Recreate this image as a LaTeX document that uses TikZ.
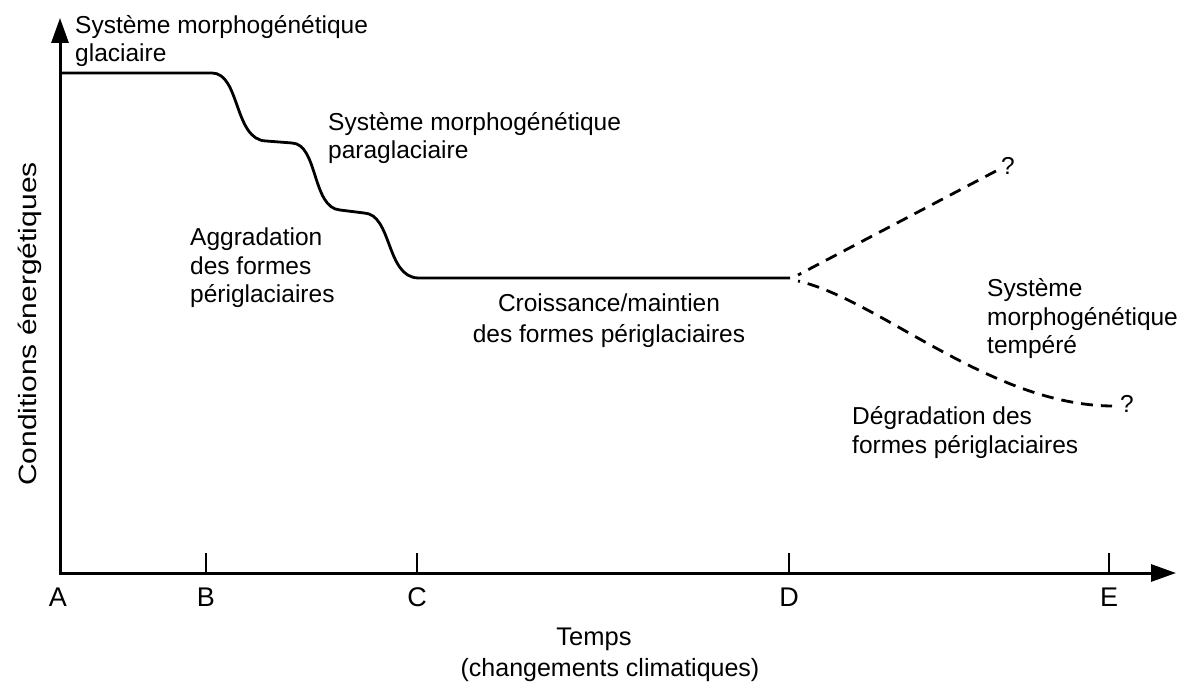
\documentclass[tikz,border=0pt]{standalone}
\usepackage{fontspec}
\setmainfont{Liberation Sans}
\usetikzlibrary{arrows.meta}
\begin{document}
\begin{tikzpicture}[x=1pt,y=-1pt,
  axis/.style={line width=3pt, line cap=rect, -{Triangle[length=25pt,width=17pt]}},
  tickmark/.style={line width=2.6pt},
  curve/.style={line width=2.8pt, line join=round},
  branch/.style={line width=2.8pt, dash pattern=on 12pt off 8pt},
  lbl/.style={font=\fontsize{24.5}{28.5}\selectfont, inner sep=0pt, align=left, anchor=base west},
  clbl/.style={font=\fontsize{24.5}{31.5}\selectfont, inner sep=0pt, align=center, anchor=base},
  letter/.style={font=\fontsize{27}{30}\selectfont, inner sep=0pt, anchor=base},
  qm/.style={font=\fontsize{24.5}{28}\selectfont, inner sep=0pt, anchor=base},
]
\useasboundingbox (0,0) rectangle (1178,684);

% axes
\coordinate (O) at (60,573);
\coordinate (ytop) at (60,18);
\coordinate (xend) at (1176,573);
\draw[axis] (O) -- (ytop);
\draw[axis] (O) -- (xend);

% ticks
\foreach \n/\x in {B/206, C/417, D/789, E/1109}{
  \coordinate (t\n) at (\x,573);
  \coordinate (u\n) at (\x,553);
  \draw[tickmark] (t\n) -- (u\n);
}
\node[letter] (lA) at (58,606) {A};
\node[letter] (lB) at (206,606) {B};
\node[letter] (lC) at (417,606) {C};
\node[letter] (lD) at (789,606) {D};
\node[letter] (lE) at (1109,606) {E};

% main curve
\coordinate (s0) at (60,73);
\coordinate (s1) at (212,73);
\coordinate (p1) at (266,141);
\coordinate (p1e) at (292,143);
\coordinate (p2) at (340,210);
\coordinate (p2e) at (364,213);
\coordinate (p3) at (418,278);
\coordinate (split) at (790,278);
\draw[curve] (s0) -- (s1)
  .. controls (240,73) and (234,140) .. (p1) -- (p1e)
  .. controls (318,144) and (312,208) .. (p2) -- (p2e)
  .. controls (392,214) and (386,277) .. (p3) -- (split);

% branches
\coordinate (bu) at (798,275);
\coordinate (bl) at (798,281);
\coordinate (eu) at (996,171);
\coordinate (el) at (1112,406);
\draw[branch, dash phase=8.4pt] (bu) -- (eu);
\draw[branch, dash phase=10pt] (bl) .. controls (880,300) and (990,405) .. (el);
\node[qm] (q1) at (1008,175) {?};
\node[qm] (q2) at (1127,413) {?};

% labels (base anchor = baseline of last line)
\node[lbl] (glac) at (75,62) {Système morphogénétique\\glaciaire};
\node[lbl] (para) at (328,159) {Système morphogénétique\\paraglaciaire};
\node[lbl] (aggr) at (190,303) {Aggradation\\des formes\\périglaciaires};
\node[clbl] (crois) at (609,343) {Croissance/maintien\\des formes périglaciaires};
\node[lbl] (temp) at (987,354) {Système\\morphogénétique\\tempéré};
\node[lbl] (degr) at (852,453) {Dégradation des\\formes périglaciaires};

\node[font=\fontsize{25.5}{28}\selectfont, inner sep=0pt, anchor=base] (temps) at (594,645) {Temps};
\node[font=\fontsize{25}{28}\selectfont, inner sep=0pt, anchor=base] (chg) at (610,676) {(changements climatiques)};

\node[inner sep=0pt] (ylab) at (30,324) {\rotatebox{90}{\scalebox{1.2}[1]{\fontsize{25}{28}\selectfont Conditions énergétiques}}};
\end{tikzpicture}
\end{document}
